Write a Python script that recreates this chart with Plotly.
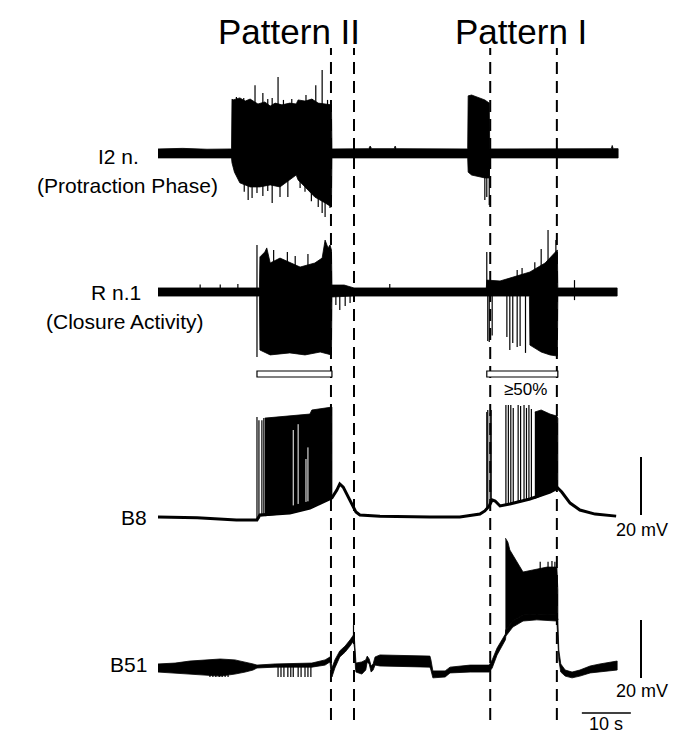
import plotly.graph_objects as go

# ---------------- layout constants (pixel geometry of the page) ----------------
W, H = 689, 734
X0_PX = 158.0          # page x of t = 0 s
PX_PER_S = 4.9         # 10 s = 49 px
PX_PER_UNIT = 2.9      # 20 mV = 58 px (same scale used for nerve a.u.)

# baseline pixel row and reference value of each trace
I2_REF = (153, 0.0)
RN_REF = (292, 0.0)
B8_REF = (517, -60.0)
B51_REF = (668, -60.0)

# ---------------- data: I2 nerve (arbitrary units) ----------------
i2_up_t = [0, 5, 10, 15.0, 15.1, 15.3, 16.7, 17.8, 18.8, 20.4, 21.8, 22.9, 23.9, 25.3, 26.9,
           28.2, 28.6, 30.0, 31.4, 32.7, 34.1, 35.4, 35.5,
           43.0, 43.3, 43.6, 48.2, 48.4, 48.6, 55, 63.2, 63.3, 64.0, 66.7, 67.6, 67.7,
           80, 92.5, 92.7, 92.9, 93.9]
i2_up = [1.4, 1.6, 1.3, 1.4, 18.6, 18.3, 19.0, 17.9, 18.6, 16.9, 17.6, 16.2, 17.2, 16.6, 17.2,
         16.9, 18.3, 17.9, 18.6, 17.2, 16.9, 16.6, 1.4,
         1.5, 2.4, 1.5, 1.5, 2.4, 1.5, 1.4, 1.4, 19.7, 20.0, 18.3, 17.2, 1.4,
         1.5, 1.5, 2.6, 1.5, 1.5]
i2_lo_t = [0, 15.0, 15.1, 15.6, 16.7, 18.8, 20.8, 22.9, 24.9, 26.9, 28.2, 28.6, 30.0, 32.0,
           34.1, 35.4, 35.5, 63.2, 63.3, 64.0, 66.7, 67.6, 67.7, 93.9]
i2_lo = [-1.7, -1.7, -3.4, -6.6, -10.3, -11.7, -11.7, -11.0, -11.7, -9.3, -7.6, -9.3, -11.7, -15.2,
         -17.2, -18.6, -1.7, -1.7, -6.6, -7.6, -8.6, -8.6, -1.7, -1.7]
i2_spk_up_t = [16.0, 17.5, 19.8, 21.4, 22.4, 23.3, 24.5, 25.6, 27.3, 30.2, 31.5, 32.2, 33.5, 34.6]
i2_spk_up = [19.3, 19.0, 23.4, 20.7, 18.6, 19.0, 26.2, 18.3, 18.6, 20.0, 18.6, 23.4, 28.6, 18.3]
i2_spk_dn_t = [17.6, 18.4, 19.2, 20.2, 21.4, 22.4, 23.3, 24.9, 26.5, 29.0, 30.0, 31.3, 32.7, 33.5,
               34.1, 35.1, 66.7, 67.1, 67.6]
i2_spk_dn = [-13.4, -16.2, -15.5, -13.8, -14.8, -13.1, -17.2, -15.2, -15.2, -12.1, -13.4, -16.6,
             -18.6, -20.7, -22.1, -19.0, -16.2, -15.2, -17.9]

# ---------------- data: R n.1 (arbitrary units) ----------------
rn_up_t = [0, 20.1, 20.7, 20.8, 21.8, 22.2, 22.9, 24.9, 25.9, 29.0, 32.0, 33.5, 34.1, 34.7, 35.1,
           35.4, 35.5, 38.0, 40.0, 67.0, 67.1, 69.8, 71.8, 75.9, 79.0, 81.0, 81.5, 81.6, 93.7]
rn_up = [1.4, 1.4, 1.4, 12.1, 13.8, 15.2, 10.0, 11.7, 11.0, 8.6, 10.0, 11.7, 17.9, 15.2, 16.2,
         14.5, 2.4, 2.4, 1.4, 1.4, 4.1, 3.8, 4.8, 6.9, 10.0, 13.4, 14.5, 1.4, 1.4]
rn_lo_t = [0, 20.7, 20.8, 22.9, 26.9, 30.0, 33.1, 35.4, 35.5, 40.0, 75.8, 75.9, 78.2, 80.0, 81.5,
           81.6, 93.7]
rn_lo = [-1.4, -1.4, -20.0, -21.7, -21.0, -21.7, -20.7, -21.7, -1.7, -1.4, -1.4, -18.3, -20.7,
         -21.7, -22.1, -1.4, -1.4]
rn_spk_up_t = [8.6, 12.7, 16.3, 20.2, 23.6, 26.4, 28.0, 30.6, 47.3, 67.1, 73.3, 74.3, 76.9, 78.2,
               79.6, 81.2, 85.0]
rn_spk_up = [2.6, 2.6, 2.8, 16.2, 14.5, 13.8, 12.4, 13.1, 2.8, 13.8, 7.6, 8.3, 10.3, 14.8, 21.4,
             17.9, 4.1]
rn_spk_dn_t = [20.2, 36.3, 37.1, 38.2, 39.2, 67.3, 67.6, 68.2, 71.2, 71.8, 72.4, 73.3, 73.9, 75.0, 85.0]
rn_spk_dn = [-22.4, -4.5, -6.2, -4.8, -3.8, -16.9, -17.2, -15.0, -15.5, -20.0, -17.6, -19.0,
             -18.6, -21.0, -2.8]

# response bars under R n.1 (s)
bar_start = [20.2, 67.1]
bar_end = [35.5, 81.6]

# ---------------- data: B8 (mV) ----------------
b8_t = [0, 8.0, 16.0, 20.2, 20.8, 26.9, 31.0, 33.1, 35.5, 36.5, 37.1, 37.8, 39.2, 40.4, 41.2,
        45.3, 55.5, 61.6, 65.7, 66.7, 67.6, 68.2, 68.8, 69.8, 71.8, 75.9, 80.0, 81.6, 82.4,
        84.1, 86.1, 89.2, 93.5]
b8_v = [-60.0, -60.3, -61.0, -61.0, -59.3, -58.6, -56.9, -55.2, -53.4, -50.7, -48.6, -49.7,
        -54.1, -58.3, -59.3, -59.7, -60.0, -60.0, -59.0, -57.9, -56.2, -54.1, -54.5, -56.2,
        -55.5, -53.8, -51.4, -50.0, -51.4, -55.2, -57.6, -59.0, -59.7]
b8_burst2_t = [21.8, 26.9, 31.0, 31.4, 35.3, 35.5]
b8_burst2_top = [-25.9, -25.2, -24.5, -23.1, -22.1, -22.1]
b8_burst2_bot_t = [21.8, 26.9, 31.0, 33.1, 35.5]
b8_burst2_bot = [-59.6, -58.6, -56.9, -55.2, -53.4]
b8_burst1_t = [76.9, 78.2, 80.0, 81.4, 81.6]
b8_burst1_top = [-23.8, -23.1, -24.5, -25.2, -26.0]
b8_burst1_bot_t = [76.9, 80.0, 81.6]
b8_burst1_bot = [-53.6, -51.4, -50.0]
b8_spk_t = [20.2, 20.6, 21.2, 21.6, 67.1, 67.3, 67.8, 68.0, 71.0, 71.5, 72.0, 72.5, 73.5, 74.0,
            74.7, 75.2, 75.7, 76.2]
b8_spk_lo = [-61.0, -60.5, -59.8, -59.7, -57.5, -57.0, -56.0, -55.0, -55.6, -55.5, -55.4, -55.2,
             -55.0, -54.9, -54.6, -54.4, -54.2, -54.0]
b8_spk_hi = [-25.5, -26.6, -26.6, -25.9, -23.8, -23.1, -24.1, -23.1, -21.4, -21.4, -21.4, -22.4,
             -21.4, -21.7, -21.4, -22.4, -21.4, -22.8]
# white gaps visible inside the dense Pattern II burst (s, bottom mV, top mV)
b8_gap_t = [27.6, 28.6, 30.2, 30.6]
b8_gap_lo = [-56.0, -55.5, -54.8, -54.6]
b8_gap_hi = [-30.0, -28.0, -40.0, -36.0]

# ---------------- data: B51 (mV) ----------------
b51_t = [0, 3.5, 6.5, 9.6, 12.7, 15.7, 17.8, 19.4, 20.2, 23.9, 31.4, 34.1, 35.1, 35.3, 35.5, 36.1,
         37.1, 38.2, 39.2, 39.9, 40.1, 40.3, 40.4, 41.6, 42.4, 42.7, 43.1, 43.5, 43.9, 44.3, 45.3,
         55.5, 55.7, 56.1, 58.6, 59.6, 63.7, 67.6, 68.2, 69.2, 70.2, 70.9, 71.0, 72.4, 74.5, 77.3,
         81.4, 81.6, 81.8, 82.2, 83.1, 84.5, 86.1, 88.2, 90.2, 92.2, 93.7]
b51_up = [-58.6, -58.3, -57.6, -57.2, -56.9, -57.2, -57.9, -58.6, -59.0, -58.6, -58.3, -57.2,
          -56.2, -57.2, -60.0, -57.2, -54.1, -52.4, -50.3, -48.6, -50.3, -57.2, -58.3, -57.9,
          -57.2, -55.9, -56.9, -59.3, -58.6, -56.2, -55.5, -55.9, -57.2, -61.0, -61.0, -59.7,
          -59.0, -59.0, -57.2, -53.1, -50.3, -48.3, -46.9, -43.8, -41.7, -41.4, -41.7, -43.4,
          -53.8, -58.6, -60.7, -61.4, -60.7, -59.3, -58.6, -57.9, -57.6]
b51_lo = [-61.4, -61.7, -62.1, -62.4, -62.8, -62.1, -61.4, -60.7, -60.0, -59.7, -59.7, -59.0,
          -57.9, -61.4, -63.1, -60.0, -56.2, -54.5, -52.4, -50.7, -53.1, -60.0, -61.4, -62.1,
          -60.7, -57.9, -58.6, -61.4, -60.7, -59.0, -59.3, -59.7, -60.7, -63.4, -63.1, -61.7,
          -61.4, -61.4, -60.0, -55.5, -52.4, -50.3, -49.0, -45.9, -43.8, -43.4, -43.8, -46.9,
          -57.2, -61.4, -62.8, -63.4, -62.8, -61.7, -61.4, -61.0, -60.7]
b51_burst_t = [70.9, 71.4, 71.8, 72.4, 73.3, 74.5, 76.5, 79.4, 81.4, 81.6]
b51_burst_top = [-15.2, -16.6, -19.3, -21.0, -23.8, -26.9, -26.2, -25.2, -25.2, -33.1]
b51_burst_bot_t = [70.9, 71.0, 72.4, 74.5, 77.3, 81.4, 81.6]
b51_burst_bot = [-48.3, -46.9, -43.8, -41.7, -41.4, -41.7, -43.4]
b51_spk_t = [10.6, 11.2, 11.8, 12.5, 13.1, 13.7, 14.3,
             24.5, 25.1, 25.7, 26.5, 27.1, 27.6, 28.6, 29.2, 30.0, 30.6, 31.2,
             39.9, 78.0, 79.6, 80.4, 81.0]
b51_spk_lo = [-63.1] * 7 + [-63.1] * 11 + [-49.0, -30.0, -30.0, -30.0, -30.0]
b51_spk_hi = [-57.9] * 7 + [-58.6] * 11 + [-45.2, -23.4, -23.4, -23.1, -23.4]

# ---------------- markers / scale bars ----------------
dashed_t = [35.3, 40.0, 67.8, 81.4]
scale_mv = 20
scale_s = 10
scale_s_start = 86.5

# ---------------- helpers ----------------
def yrange(ref):
    px, val = ref
    return [val - (H - px) / PX_PER_UNIT, val + px / PX_PER_UNIT]

def px2x(px):
    return px / W

def py2y(py):
    return 1 - py / H

def polygon(t_up, up, t_lo, lo):
    return list(t_up) + list(t_lo)[::-1], list(up) + list(lo)[::-1]

def spikes(ts, lo, hi):
    xs, ys = [], []
    lo_list = lo if isinstance(lo, (list, tuple)) else [lo] * len(ts)
    for t, a, b in zip(ts, lo_list, hi):
        xs += [t, t, None]
        ys += [a, b, None]
    return xs, ys

fig = go.Figure()
BLACK = "black"

def add_fill(xs, ys, yaxis):
    fig.add_trace(go.Scatter(x=xs, y=ys, fill="toself", fillcolor=BLACK, mode="lines",
                             line=dict(color=BLACK, width=0.8), yaxis=yaxis,
                             hoverinfo="skip", showlegend=False))

def add_lines(xs, ys, yaxis, width, color=BLACK):
    fig.add_trace(go.Scatter(x=xs, y=ys, mode="lines", line=dict(color=color, width=width),
                             yaxis=yaxis, hoverinfo="skip", showlegend=False, connectgaps=False))

# I2 nerve
add_fill(*polygon(i2_up_t, i2_up, i2_lo_t, i2_lo), "y")
add_lines(*spikes(i2_spk_up_t, 0.0, i2_spk_up), "y", 1.2)
add_lines(*spikes(i2_spk_dn_t, 0.0, i2_spk_dn), "y", 1.2)

# R n.1
add_fill(*polygon(rn_up_t, rn_up, rn_lo_t, rn_lo), "y2")
add_lines(*spikes(rn_spk_up_t, 0.0, rn_spk_up), "y2", 1.2)
add_lines(*spikes(rn_spk_dn_t, 0.0, rn_spk_dn), "y2", 1.2)

# B8
add_fill(*polygon(b8_burst2_t, b8_burst2_top, b8_burst2_bot_t, b8_burst2_bot), "y3")
add_fill(*polygon(b8_burst1_t, b8_burst1_top, b8_burst1_bot_t, b8_burst1_bot), "y3")
add_lines(*spikes(b8_gap_t, b8_gap_lo, b8_gap_hi), "y3", 1.0, "white")
add_lines(*spikes(b8_spk_t, b8_spk_lo, b8_spk_hi), "y3", 1.2)
add_lines(b8_t, b8_v, "y3", 3)

# B51
add_fill(*polygon(b51_t, b51_up, b51_t, b51_lo), "y4")
add_fill(*polygon(b51_burst_t, b51_burst_top, b51_burst_bot_t, b51_burst_bot), "y4")
add_lines(*spikes(b51_spk_t, b51_spk_lo, b51_spk_hi), "y4", 1.2)

# ---------------- shapes ----------------
shapes = []
for t in dashed_t:
    shapes.append(dict(type="line", xref="x", yref="paper", x0=t, x1=t,
                       y0=py2y(720), y1=py2y(48),
                       line=dict(color=BLACK, width=2, dash="12px,7px"), layer="above"))
for s, e in zip(bar_start, bar_end):
    shapes.append(dict(type="rect", xref="x", yref="paper", x0=s, x1=e,
                       y0=py2y(377), y1=py2y(371), fillcolor="white",
                       line=dict(color=BLACK, width=1.2), layer="above"))
# 20 mV bars
b8_bar0 = B8_REF[1] + (B8_REF[0] - 515) / PX_PER_UNIT
shapes.append(dict(type="line", xref="paper", yref="y3", x0=px2x(641), x1=px2x(641),
                   y0=b8_bar0, y1=b8_bar0 + scale_mv, line=dict(color=BLACK, width=2)))
b51_bar0 = B51_REF[1] + (B51_REF[0] - 678) / PX_PER_UNIT
shapes.append(dict(type="line", xref="paper", yref="y4", x0=px2x(641), x1=px2x(641),
                   y0=b51_bar0, y1=b51_bar0 + scale_mv, line=dict(color=BLACK, width=2)))
# 10 s bar
shapes.append(dict(type="line", xref="x", yref="paper", x0=scale_s_start, x1=scale_s_start + scale_s,
                   y0=py2y(713), y1=py2y(713), line=dict(color=BLACK, width=1.5)))

# ---------------- text ----------------
FONT = "Liberation Sans, Arial, Helvetica, sans-serif"

def txt(text, px, py, size, anchor="center"):
    return dict(text=text, xref="paper", yref="paper", x=px2x(px), y=py2y(py),
                xanchor=anchor, yanchor="middle", showarrow=False,
                font=dict(family=FONT, size=size, color=BLACK))

annotations = [
    txt("Pattern II", 289, 31, 35),
    txt("Pattern I", 521, 31, 35),
    txt("I2 n.", 141, 156, 21, "right"),
    txt("(Protraction Phase)", 220, 185, 21, "right"),
    txt("R n.1", 143, 292, 21, "right"),
    txt("(Closure Activity)", 206, 321, 21, "right"),
    txt("≥50%", 525, 389, 17),
    txt("B8", 149, 517, 21, "right"),
    txt("B51", 149, 664, 21, "right"),
    txt("20 mV", 614, 530, 18, "left"),
    txt("20 mV", 614, 691, 18, "left"),
    txt("10 s", 606, 724, 18),
]

# ---------------- layout ----------------
x_range = [(0 - X0_PX) / PX_PER_S, (W - X0_PX) / PX_PER_S]
ax_common = dict(visible=False, showgrid=False, zeroline=False, fixedrange=True)
fig.update_layout(
    width=W, height=H, margin=dict(l=0, r=0, t=0, b=0),
    paper_bgcolor="white", plot_bgcolor="white", showlegend=False,
    xaxis=dict(range=x_range, **ax_common),
    yaxis=dict(range=yrange(I2_REF), **ax_common),
    yaxis2=dict(range=yrange(RN_REF), overlaying="y", **ax_common),
    yaxis3=dict(range=yrange(B8_REF), overlaying="y", **ax_common),
    yaxis4=dict(range=yrange(B51_REF), overlaying="y", **ax_common),
    shapes=shapes, annotations=annotations,
)

fig.write_html("out.html", config={"displayModeBar": False, "staticPlot": True},
               post_script="document.body.style.margin='0';document.body.style.overflow='hidden';")
